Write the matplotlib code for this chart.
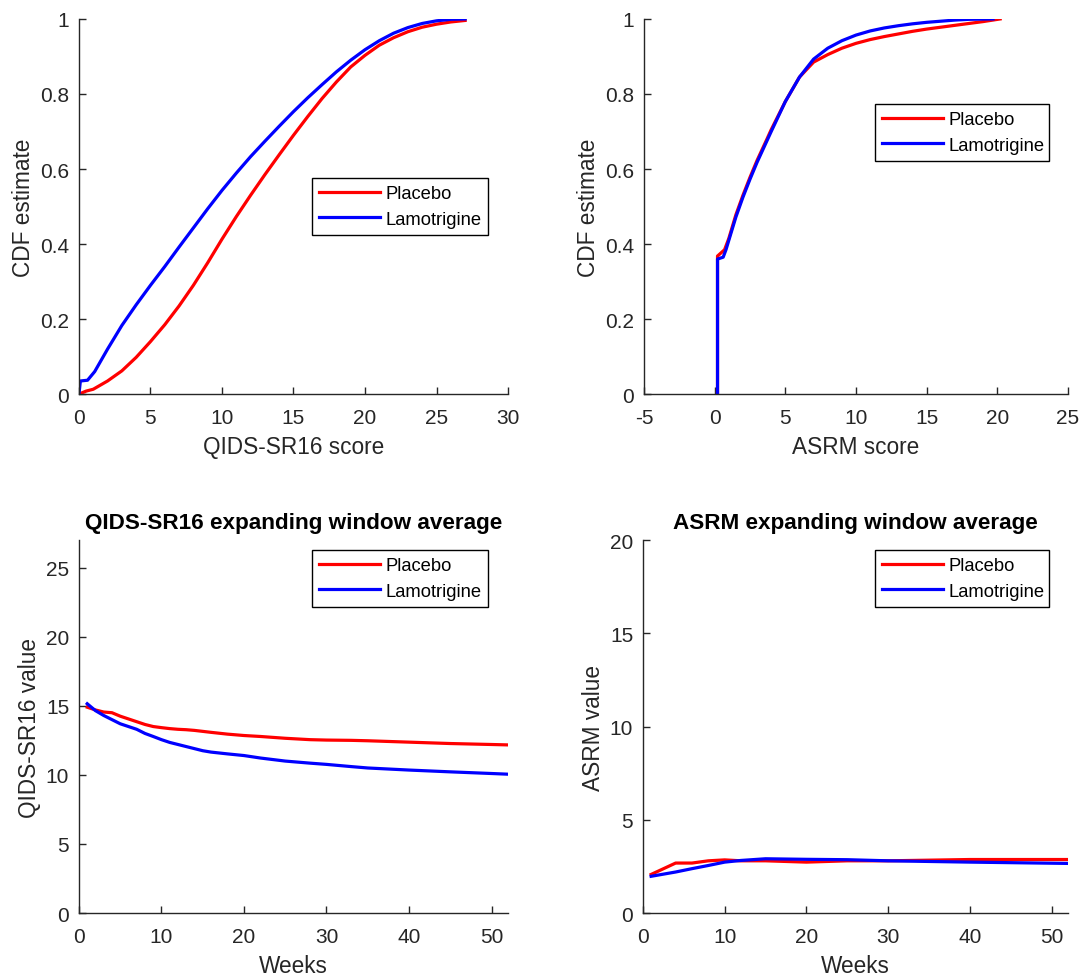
import numpy as np
import matplotlib
matplotlib.use('Agg')
import matplotlib.pyplot as plt

plt.rcParams['font.family'] = ['Liberation Sans', 'DejaVu Sans']
plt.rcParams['axes.unicode_minus'] = False

# --- Data ---
# QIDS-SR16 CDF estimate
qids_x_pla = [0, 0.5, 1, 2, 3, 4, 5, 6, 7, 8, 9, 10, 11, 12, 13, 14, 15, 16, 17, 18,
              19, 20, 21, 22, 23, 24, 25, 26, 27]
qids_cdf_pla = [0, 0.008, 0.013, 0.035, 0.062, 0.098, 0.14, 0.185, 0.235, 0.29, 0.35, 0.413,
                0.473, 0.53, 0.585, 0.638, 0.69, 0.74, 0.788, 0.832, 0.872, 0.903, 0.93, 0.95,
                0.966, 0.978, 0.986, 0.992, 0.996]
qids_x_lam = [0, 0.1, 0.6, 1.1, 2, 3, 4, 5, 6, 7, 8, 9, 10, 11, 12, 13, 14, 15, 16, 17,
              18, 19, 20, 21, 22, 23, 24, 25, 26, 27]
qids_cdf_lam = [0, 0.035, 0.037, 0.06, 0.12, 0.183, 0.238, 0.29, 0.34, 0.392, 0.443, 0.494,
                0.543, 0.589, 0.633, 0.674, 0.714, 0.753, 0.79, 0.825, 0.859, 0.89, 0.918,
                0.942, 0.962, 0.977, 0.988, 0.995, 0.999, 1.0]

# ASRM CDF estimate
asrm_x_pla = [0.2, 0.2, 0.7, 1.0, 1.5, 2, 2.5, 3, 3.7, 4, 5, 6, 7, 8, 9, 10, 11, 12, 13, 14,
              15, 16, 17, 18, 19, 20.2]
asrm_cdf_pla = [0, 0.368, 0.385, 0.415, 0.478, 0.53, 0.578, 0.623, 0.68, 0.705, 0.78, 0.845,
                0.885, 0.905, 0.922, 0.935, 0.945, 0.953, 0.96, 0.967, 0.973, 0.978, 0.983,
                0.988, 0.993, 1.0]
asrm_x_lam = [0.2, 0.2, 0.6, 0.8, 1.0, 1.5, 2, 2.5, 3, 4, 5, 6, 7, 8, 9, 10, 11, 12, 13, 14,
              15, 16, 17, 18, 19.7]
asrm_cdf_lam = [0, 0.36, 0.365, 0.385, 0.41, 0.472, 0.525, 0.573, 0.618, 0.7, 0.78, 0.845,
                0.893, 0.922, 0.942, 0.957, 0.968, 0.976, 0.982, 0.987, 0.991, 0.994, 0.997,
                0.999, 1.0]

# expanding window averages by week
weeks_q = [1, 2, 3, 4, 5, 6, 7, 8, 9, 10, 11, 12, 13, 14, 15, 16, 18, 20, 22, 25, 28, 30,
           33, 35, 40, 45, 50, 52]
qids_avg_pla = [14.9, 14.7, 14.55, 14.5, 14.25, 14.05, 13.85, 13.65, 13.5, 13.42, 13.35,
                13.3, 13.27, 13.22, 13.15, 13.08, 12.95, 12.85, 12.78, 12.65, 12.55, 12.52,
                12.5, 12.47, 12.37, 12.27, 12.2, 12.17]
qids_avg_lam = [15.15, 14.65, 14.3, 14.0, 13.7, 13.5, 13.3, 13.0, 12.78, 12.55, 12.35,
                12.2, 12.05, 11.9, 11.75, 11.65, 11.52, 11.4, 11.22, 11.0, 10.85, 10.76,
                10.6, 10.5, 10.35, 10.22, 10.1, 10.05]

weeks_a = [1, 4, 6, 8, 10, 12, 15, 20, 25, 30, 40, 52]
asrm_avg_pla = [2.07, 2.68, 2.68, 2.8, 2.85, 2.8, 2.8, 2.73, 2.8, 2.8, 2.87, 2.87]
asrm_avg_lam = [1.97, 2.2, 2.38, 2.55, 2.73, 2.82, 2.91, 2.88, 2.86, 2.8, 2.73, 2.66]

labels = ['Placebo', 'Lamotrigine']
gray = '#262626'
tick_fs = 15
label_fs = 16.3
title_fs = 16.2
legend_fs = 13.2

fig = plt.figure(figsize=(10.89, 9.78), dpi=100)
ax1 = fig.add_axes([0.0725, 0.596, 0.394, 0.3836])
ax2 = fig.add_axes([0.5914, 0.596, 0.3893, 0.3836])
ax3 = fig.add_axes([0.0725, 0.0654, 0.394, 0.3814])
ax4 = fig.add_axes([0.5904, 0.0654, 0.3903, 0.3814])


def style(ax):
    for s in ['top', 'right']:
        ax.spines[s].set_visible(False)
    for s in ['left', 'bottom']:
        ax.spines[s].set_color(gray)
        ax.spines[s].set_linewidth(1.0)
    ax.tick_params(direction='in', length=5, width=1.0, colors=gray,
                   labelsize=tick_fs)
    ax.tick_params(axis='x', pad=10)
    ax.tick_params(axis='y', pad=7)
    ax.xaxis.labelpad = 6
    ax.yaxis.labelpad = 3.5


def leg(ax, x0, x1, ytop):
    lg = ax.legend(labels, loc='upper left', bbox_to_anchor=(x0, ytop, x1 - x0, 0),
                   mode='expand', fontsize=legend_fs, handlelength=3.3, handletextpad=0.33,
                   borderpad=0.4, labelspacing=0.45, fancybox=False, framealpha=1,
                   edgecolor='black', borderaxespad=0)
    lg.get_frame().set_linewidth(1.0)


lw = 2.3

# QIDS CDF
ax1.plot(qids_x_pla, qids_cdf_pla, color='red', lw=lw)
ax1.plot(qids_x_lam, qids_cdf_lam, color='blue', lw=lw)
ax1.set_xlim(0, 30)
ax1.set_ylim(0, 1)
ax1.set_yticks([0, 0.2, 0.4, 0.6, 0.8, 1])
ax1.set_yticklabels(['0', '0.2', '0.4', '0.6', '0.8', '1'])
ax1.set_xlabel('QIDS-SR16 score', fontsize=label_fs, color=gray)
ax1.set_ylabel('CDF estimate', fontsize=label_fs, color=gray)
style(ax1)
leg(ax1, 0.543, 0.953, 0.576)

# ASRM CDF
ax2.plot(asrm_x_pla, asrm_cdf_pla, color='red', lw=lw)
ax2.plot(asrm_x_lam, asrm_cdf_lam, color='blue', lw=lw)
ax2.set_xlim(-5, 25)
ax2.set_ylim(0, 1)
ax2.set_yticks([0, 0.2, 0.4, 0.6, 0.8, 1])
ax2.set_yticklabels(['0', '0.2', '0.4', '0.6', '0.8', '1'])
ax2.set_xlabel('ASRM score', fontsize=label_fs, color=gray)
ax2.set_ylabel('CDF estimate', fontsize=label_fs, color=gray)
style(ax2)
leg(ax2, 0.545, 0.955, 0.773)

# QIDS expanding window
ax3.plot(weeks_q, qids_avg_pla, color='red', lw=lw)
ax3.plot(weeks_q, qids_avg_lam, color='blue', lw=lw)
ax3.set_xlim(0, 52)
ax3.set_ylim(0, 27)
ax3.set_xticks([0, 10, 20, 30, 40, 50])
ax3.set_yticks([0, 5, 10, 15, 20, 25])
ax3.set_xlabel('Weeks', fontsize=label_fs, color=gray)
ax3.set_ylabel('QIDS-SR16 value', fontsize=label_fs, color=gray)
ax3.set_title('QIDS-SR16 expanding window average', fontsize=title_fs, fontweight='bold',
              pad=9)
style(ax3)
leg(ax3, 0.543, 0.953, 0.973)

# ASRM expanding window
ax4.plot(weeks_a, asrm_avg_pla, color='red', lw=lw)
ax4.plot(weeks_a, asrm_avg_lam, color='blue', lw=lw)
ax4.set_xlim(0, 52)
ax4.set_ylim(0, 20)
ax4.set_xticks([0, 10, 20, 30, 40, 50])
ax4.set_yticks([0, 5, 10, 15, 20])
ax4.set_xlabel('Weeks', fontsize=label_fs, color=gray)
ax4.set_ylabel('ASRM value', fontsize=label_fs, color=gray)
ax4.set_title('ASRM expanding window average', fontsize=title_fs, fontweight='bold', pad=9)
style(ax4)
leg(ax4, 0.546, 0.955, 0.973)

fig.savefig('out.png', dpi=100, facecolor='white')
